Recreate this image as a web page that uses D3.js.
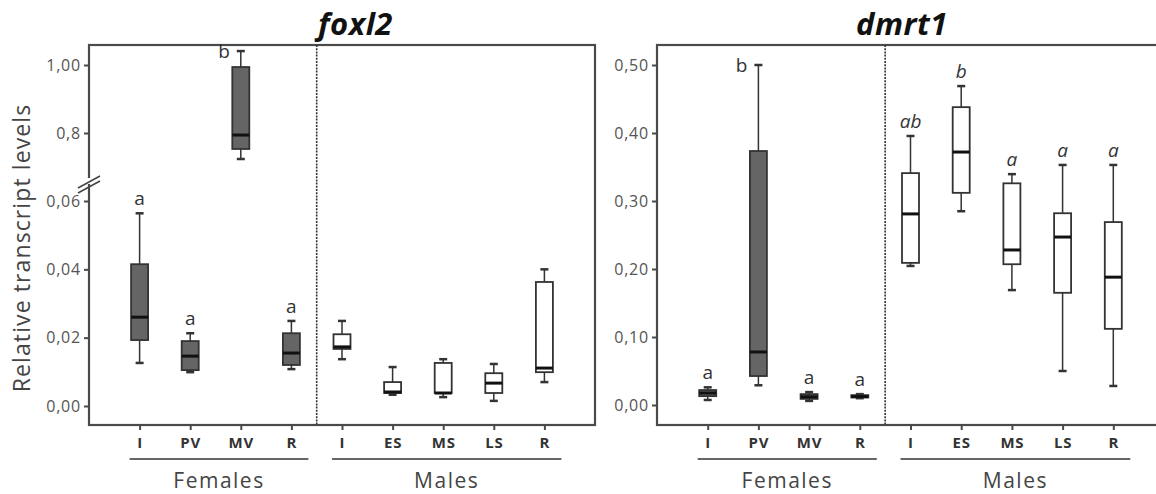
<!DOCTYPE html>
<html>
<head>
<meta charset="utf-8">
<script src="https://d3js.org/d3.v7.min.js"></script>
<style>
  body { margin: 0; background: #fff; }
  svg { display: block; font-family: "Open Sans", sans-serif; }
</style>
</head>
<body>
<svg width="1156" height="494"></svg>
<script>
// categories (index based, female stages then male stages)
const stages = ["I", "PV", "MV", "R", "I", "ES", "MS", "LS", "R"];
const female = [true, true, true, true, false, false, false, false, false];

// foxl2 box stats: whisker low, q1, median, q3, whisker high
const foxLow  = [0.0126, 0.0099, 0.7235, 0.0108, 0.0137, 0.0033, 0.0026, 0.0015, 0.0070];
const foxQ1   = [0.0193, 0.0105, 0.753,  0.0120, 0.0167, 0.0038, 0.0038, 0.0038, 0.0099];
const foxMed  = [0.0260, 0.0146, 0.794,  0.0155, 0.0173, 0.0041, 0.0038, 0.0067, 0.0111];
const foxQ3   = [0.0415, 0.0190, 0.994,  0.0213, 0.0210, 0.0070, 0.0126, 0.0096, 0.0363];
const foxHigh = [0.0564, 0.0213, 1.041,  0.0249, 0.0249, 0.0114, 0.0137, 0.0123, 0.0400];
const foxLetters = ["a", "a", "b", "a", "", "", "", "", ""];

// dmrt1 box stats
const dmLow  = [0.0074, 0.029, 0.006, 0.010, 0.2045, 0.285, 0.169, 0.050, 0.028];
const dmQ1   = [0.013,  0.0426, 0.009, 0.011, 0.209, 0.312, 0.207, 0.165, 0.112];
const dmMed  = [0.0176, 0.078, 0.012, 0.0125, 0.281, 0.372, 0.228, 0.247, 0.188];
const dmQ3   = [0.022,  0.3735, 0.016, 0.0145, 0.341, 0.438, 0.326, 0.282, 0.269];
const dmHigh = [0.026,  0.500, 0.019, 0.016, 0.3956, 0.469, 0.3395, 0.353, 0.353];
const dmLetters = ["a", "b", "a", "a", "ab", "b", "a", "a", "a"];

// axis ticks
const foxTicksLow = [0, 0.02, 0.04, 0.06];
const foxTickLabelsLow = ["0,00", "0,02", "0,04", "0,06"];
const foxTicksUp = [0.8, 1.0];
const foxTickLabelsUp = ["0,8", "1,00"];
const dmTicks = [0, 0.1, 0.2, 0.3, 0.4, 0.5];
const dmTickLabels = ["0,00", "0,10", "0,20", "0,30", "0,40", "0,50"];

const svg = d3.select("svg");
const frameTop = 45, frameBottom = 425;
const boxW = 17;
const frameCol = "#4a4a4a";
const darkFill = "#656565";

function stats(lo, q1, md, q3, hi, letters) {
  return stages.map((s, i) => ({ i: i, lo: lo[i], q1: q1[i], md: md[i], q3: q3[i], hi: hi[i], letter: letters[i], fem: female[i] }));
}

function panel(opts) {
  const x = d3.scalePoint().domain(d3.range(stages.length)).range([opts.left, opts.right]).padding(1);
  const y = opts.y;
  const g = svg.append("g");

  // frame
  g.append("rect").attr("x", opts.left).attr("y", frameTop)
    .attr("width", opts.right - opts.left).attr("height", frameBottom - frameTop)
    .attr("fill", "none").attr("stroke", frameCol).attr("stroke-width", 2.2);

  // divider between sexes
  const xd = (x(3) + x(4)) / 2;
  g.append("line").attr("x1", xd).attr("x2", xd).attr("y1", frameTop).attr("y2", frameBottom)
    .attr("stroke", "#333").attr("stroke-width", 1.6).attr("stroke-dasharray", "2,1.2");

  // y axes
  opts.axes.forEach(a => {
    const ax = g.append("g").attr("transform", "translate(" + opts.left + ",0)")
      .call(d3.axisLeft(a.scale).tickValues(a.ticks).tickSize(5).tickPadding(3)
        .tickFormat((d, k) => a.labels[k]));
    ax.select(".domain").remove();
    ax.selectAll("line").attr("stroke", frameCol).attr("stroke-width", 2);
    ax.selectAll("text").attr("fill", "#555").style("font-size", "16px")
      .style("letter-spacing", "0.8px").style("font-family", "'Open Sans', sans-serif");
  });

  // x axis
  const xa = g.append("g").attr("transform", "translate(0," + frameBottom + ")")
    .call(d3.axisBottom(x).tickSize(5).tickPadding(7).tickFormat(i => stages[i]));
  xa.select(".domain").remove();
  xa.selectAll("line").attr("stroke", frameCol).attr("stroke-width", 2);
  xa.selectAll("text").attr("fill", "#333").style("font-size", "15px").style("font-weight", "bold")
    .style("letter-spacing", "0.8px").style("font-family", "'Open Sans', sans-serif");

  const data = opts.data;
  const b = g.selectAll(".box").data(data).enter().append("g");
  // whiskers
  b.append("line").attr("x1", d => x(d.i)).attr("x2", d => x(d.i))
    .attr("y1", d => y(d.hi)).attr("y2", d => y(d.q3)).attr("stroke", "#333").attr("stroke-width", 1.5);
  b.append("line").attr("x1", d => x(d.i)).attr("x2", d => x(d.i))
    .attr("y1", d => y(d.q1)).attr("y2", d => y(d.lo)).attr("stroke", "#333").attr("stroke-width", 1.5);
  b.append("line").attr("x1", d => x(d.i) - 4).attr("x2", d => x(d.i) + 4)
    .attr("y1", d => y(d.hi)).attr("y2", d => y(d.hi)).attr("stroke", "#333").attr("stroke-width", 2.5);
  b.append("line").attr("x1", d => x(d.i) - 4).attr("x2", d => x(d.i) + 4)
    .attr("y1", d => y(d.lo)).attr("y2", d => y(d.lo)).attr("stroke", "#333").attr("stroke-width", 2.5);
  // boxes
  b.append("rect").attr("x", d => x(d.i) - boxW / 2).attr("width", boxW)
    .attr("y", d => y(d.q3)).attr("height", d => Math.max(1, y(d.q1) - y(d.q3)))
    .attr("fill", d => d.fem ? darkFill : "#fff").attr("stroke", "#333").attr("stroke-width", 1.8);
  b.append("line").attr("x1", d => x(d.i) - boxW / 2).attr("x2", d => x(d.i) + boxW / 2)
    .attr("y1", d => y(d.md)).attr("y2", d => y(d.md)).attr("stroke", "#111").attr("stroke-width", 3);

  // letters
  g.selectAll(".lett").data(data.filter(d => d.letter)).enter().append("text")
    .attr("x", d => opts.letterSide(d) ? x(d.i) - 11 : x(d.i))
    .attr("y", d => opts.letterSide(d) ? y(d.hi) + 7 : y(d.hi) - 8)
    .attr("text-anchor", d => opts.letterSide(d) ? "end" : "middle")
    .attr("fill", "#333").style("font-size", "19px")
    .style("font-style", d => (!d.fem && opts.italicMale) ? "italic" : "normal")
    .text(d => d.letter);

  // title
  g.append("text").attr("x", opts.titleX).attr("y", 35)
    .style("font-size", "31px").style("font-weight", "bold").style("font-style", "italic")
    .style("letter-spacing", "0.5px").attr("fill", "#111").text(opts.title);

  // group underlines and labels
  [[0, 3, "Females"], [4, 8, "Males"]].forEach(([a, z, lab]) => {
    const x0 = x(a) - 10, x1 = x(z) + 17;
    g.append("line").attr("x1", x0).attr("x2", x1).attr("y1", 459).attr("y2", 459)
      .attr("stroke", "#333").attr("stroke-width", 1.6);
    g.append("text").attr("x", (x0 + x1) / 2).attr("y", 488).attr("text-anchor", "middle")
      .attr("fill", "#444").style("font-size", "21px").style("letter-spacing", "1.5px").text(lab);
  });
}

// foxl2 broken scale
const yLo = d3.scaleLinear().domain([0, 0.06]).range([406, 201]);
const yUp = d3.scaleLinear().domain([0.8, 1.0]).range([133, 65]);
const yFox = v => v > 0.3 ? yUp(v) : yLo(v);

panel({
  left: 89, right: 595, y: yFox, title: "foxl2", titleX: 318,
  data: stats(foxLow, foxQ1, foxMed, foxQ3, foxHigh, foxLetters),
  axes: [{ scale: yLo, ticks: foxTicksLow, labels: foxTickLabelsLow },
         { scale: yUp, ticks: foxTicksUp, labels: foxTickLabelsUp }],
  letterSide: d => d.hi > 0.3, italicMale: false
});

// axis break marks
const brk = svg.append("g");
brk.append("rect").attr("x", 86).attr("y", 178).attr("width", 6).attr("height", 6).attr("fill", "#fff");
[0, 5].forEach(o => {
  brk.append("line").attr("x1", 78).attr("y1", 188 + o).attr("x2", 100).attr("y2", 176 + o)
    .attr("stroke", "#444").attr("stroke-width", 1.5);
});

const yDm = d3.scaleLinear().domain([0, 0.5]).range([405, 65]);
panel({
  left: 657, right: 1164, y: yDm, title: "dmrt1", titleX: 856,
  data: stats(dmLow, dmQ1, dmMed, dmQ3, dmHigh, dmLetters),
  axes: [{ scale: yDm, ticks: dmTicks, labels: dmTickLabels }],
  letterSide: d => d.hi > 0.45 && d.fem, italicMale: true
});

// y label
svg.append("text").attr("transform", "translate(30,248) rotate(-90)")
  .attr("text-anchor", "middle").attr("fill", "#444").style("font-size", "23px")
  .style("letter-spacing", "1.1px")
  .text("Relative transcript levels");
</script>
</body>
</html>
